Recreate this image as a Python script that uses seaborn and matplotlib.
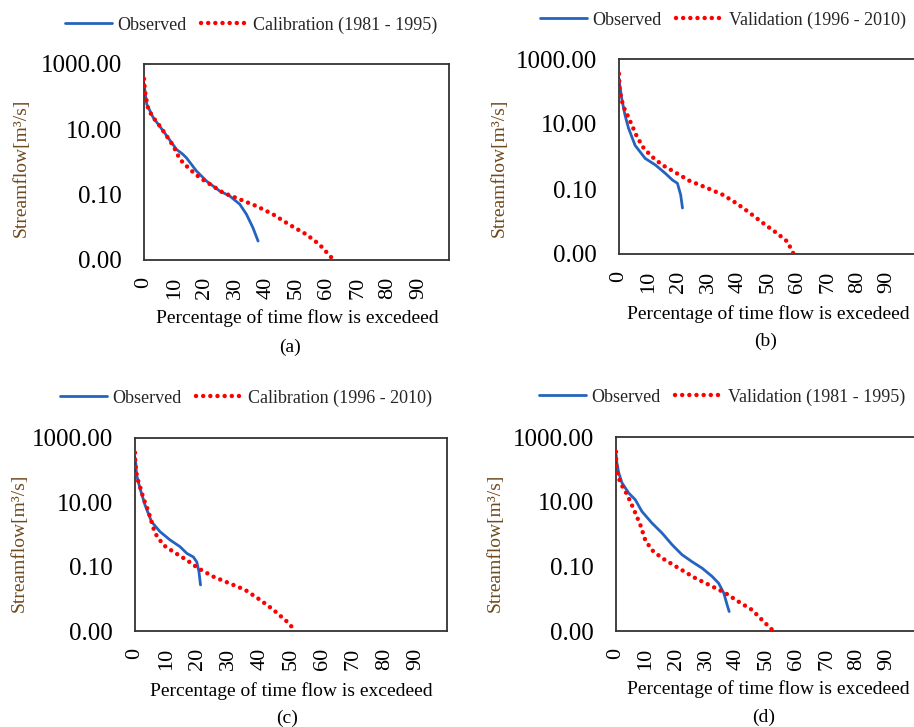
import matplotlib
matplotlib.use("Agg")
import matplotlib.pyplot as plt
import seaborn as sns
import pandas as pd

# ---------------- data ----------------
a_obs_x = [0, 0.3, 0.9, 3.0, 6.3, 10.7, 12.5, 13.9, 17.2, 20.5, 24.8, 28.1, 31.4, 33.6, 35.7, 37.4]
a_obs_y = [250, 150, 59, 23, 8.9, 2.4, 1.8, 1.35, 0.53, 0.26, 0.13, 0.091, 0.051, 0.025, 0.0098, 0.0038]
a_sim_x = [0, 0.2, 0.5, 1.4, 3.0, 5.2, 7.4, 9.6, 11.8, 15.0, 18.3, 21.6, 25.9, 31.4, 36.8, 42.3, 47.7, 53.2, 57.5, 62.2]
a_sim_y = [350, 200, 110, 41, 23, 12.6, 6.3, 3.1, 1.2, 0.6, 0.33, 0.21, 0.115, 0.072, 0.045, 0.025, 0.012, 0.0061, 0.003, 0.001]

b_obs_x = [0, 0.3, 0.9, 2.0, 3.2, 5.4, 8.8, 12.2, 15.6, 17.9, 19.6, 20.7, 21.3]
b_obs_y = [250, 150, 62, 19, 7.4, 2.2, 0.87, 0.55, 0.30, 0.19, 0.15, 0.066, 0.026]
b_sim_x = [0, 0.1, 0.3, 0.9, 1.5, 2.6, 4.3, 6.0, 8.3, 11.1, 14.5, 18.5, 23.6, 29.3, 34.9, 39.5, 44.0, 48.5, 53.1, 56.5, 58.6]
b_sim_y = [350, 180, 100, 55, 34, 21, 9.3, 4.1, 1.8, 0.98, 0.55, 0.34, 0.18, 0.11, 0.066, 0.036, 0.018, 0.0087, 0.0043, 0.0024, 0.001]

c_obs_x = [0, 0.3, 0.5, 1.6, 3.2, 5.3, 8.0, 11.2, 14.4, 16.6, 18.7, 19.8, 20.5, 21.0]
c_obs_y = [250, 150, 71, 27, 8.3, 2.5, 1.23, 0.68, 0.42, 0.26, 0.20, 0.14, 0.069, 0.027]
c_sim_x = [0, 0.1, 0.4, 0.75, 1.6, 2.7, 4.3, 6.4, 9.1, 12.3, 16.6, 20.3, 25.1, 30.4, 35.3, 40.1, 44.3, 48.6, 51.5]
c_sim_y = [350, 163, 89, 56, 31, 13.4, 5.2, 1.1, 0.47, 0.29, 0.16, 0.089, 0.049, 0.030, 0.019, 0.0093, 0.0046, 0.002, 0.001]

d_obs_x = [0, 0.3, 0.9, 2.0, 4.2, 6.4, 8.6, 11.9, 15.3, 18.6, 21.9, 25.2, 28.6, 31.9, 34.1, 35.8, 36.9, 37.6]
d_obs_y = [300, 157, 78, 38, 18.6, 11.5, 5.0, 2.2, 1.07, 0.47, 0.23, 0.14, 0.088, 0.049, 0.030, 0.015, 0.0065, 0.004]
d_sim_x = [0, 0.1, 0.4, 1.1, 2.0, 3.1, 4.8, 6.4, 8.1, 9.7, 11.9, 15.3, 20.9, 26.4, 31.9, 36.3, 40.7, 45.2, 48.5, 52.3]
d_sim_y = [350, 138, 81, 48, 31, 21, 10, 4.5, 1.9, 0.66, 0.32, 0.18, 0.087, 0.043, 0.024, 0.015, 0.0081, 0.0045, 0.0022, 0.001]

sim_labels = ["Calibration (1981 - 1995)", "Validation (1996 - 2010)",
              "Calibration (1996 - 2010)", "Validation (1981 - 1995)"]
captions = ["(a)", "(b)", "(c)", "(d)"]
y_ticks = [0.001, 0.1, 10, 1000]
y_tick_labels = ["0.00", "0.10", "10.00", "1000.00"]
x_ticks = [0, 10, 20, 30, 40, 50, 60, 70, 80, 90]
x_label = "Percentage of time flow is excedeed"
y_label = "Streamflow[m\u00b3/s]"
obs_label = "Observed"

# ---------------- style ----------------
sns.set_theme(style="white")
plt.rcParams["font.family"] = ["Liberation Serif", "DejaVu Serif"]

W, H = 914, 727
fig = plt.figure(figsize=(W / 100, H / 100), dpi=100)

BLUE = "#2563c0"
RED = "#ff0000"
BROWN = "#6e4a1e"

# layout in pixels: left, top, right, bottom
boxes = [(144, 64, 449, 260), (619, 59, 917, 254), (135, 438, 447, 631), (616, 437, 917, 631)]
legend_centers = [(251, 25), (723, 20), (246, 398), (722, 397)]
xlabel_pos = [(297, 318), (768, 314), (291, 691), (768, 689)]
caption_pos = [(290, 347), (766, 341), (287, 718), (764, 717)]
ylabel_pos = [(21, 168), (499, 168), (19, 543), (495, 543)]

series = [
    (a_obs_x, a_obs_y, a_sim_x, a_sim_y),
    (b_obs_x, b_obs_y, b_sim_x, b_sim_y),
    (c_obs_x, c_obs_y, c_sim_x, c_sim_y),
    (d_obs_x, d_obs_y, d_sim_x, d_sim_y),
]

for i, (ox, oy, sx, sy) in enumerate(series):
    l, t, r, b = boxes[i]
    ax = fig.add_axes([l / W, 1 - b / H, (r - l) / W, (b - t) / H])
    df_obs = pd.DataFrame({"x": ox, "y": oy})
    df_sim = pd.DataFrame({"x": sx, "y": sy})
    sns.lineplot(data=df_obs, x="x", y="y", ax=ax, color=BLUE, linewidth=2.0,
                 label=obs_label, sort=False, zorder=2)
    sns.lineplot(data=df_sim, x="x", y="y", ax=ax, color=RED, linewidth=3.2,
                 linestyle=(0, (0.01, 1.6)), dash_capstyle="round",
                 label=sim_labels[i], sort=False, zorder=3)
    ax.set_yscale("log")
    ax.set_ylim(0.001, 1000)
    ax.set_xlim(0, 100)
    ax.set_yticks(y_ticks)
    ax.set_yticklabels(y_tick_labels)
    ax.minorticks_off()
    ax.set_xticks(x_ticks)
    ax.set_xticklabels([str(v) for v in x_ticks], rotation=90)
    ax.tick_params(axis="y", length=0, pad=16, labelsize=18, colors="black")
    ax.tick_params(axis="x", length=0, pad=12, labelsize=16, colors="black")
    ax.set_xlabel("")
    ax.set_ylabel("")
    for sp in ax.spines.values():
        sp.set_color("#333333")
        sp.set_linewidth(1.3)
    ax.grid(False)
    cx, cy = legend_centers[i]
    leg = ax.legend(loc="center", bbox_to_anchor=(cx / W, 1 - cy / H),
                    bbox_transform=fig.transFigure, ncol=2, frameon=False,
                    fontsize=13, handlelength=2.6, handletextpad=0.3,
                    columnspacing=0.8, borderpad=0, borderaxespad=0)
    fig.text(xlabel_pos[i][0] / W, 1 - xlabel_pos[i][1] / H, x_label,
             ha="center", va="center", fontsize=14, color="black")
    fig.text(caption_pos[i][0] / W, 1 - caption_pos[i][1] / H, captions[i],
             ha="center", va="center", fontsize=14, color="black")
    fig.text(ylabel_pos[i][0] / W, 1 - ylabel_pos[i][1] / H, y_label,
             ha="center", va="center", rotation=90, fontsize=14, color=BROWN)

fig.savefig("out.png", dpi=100)
